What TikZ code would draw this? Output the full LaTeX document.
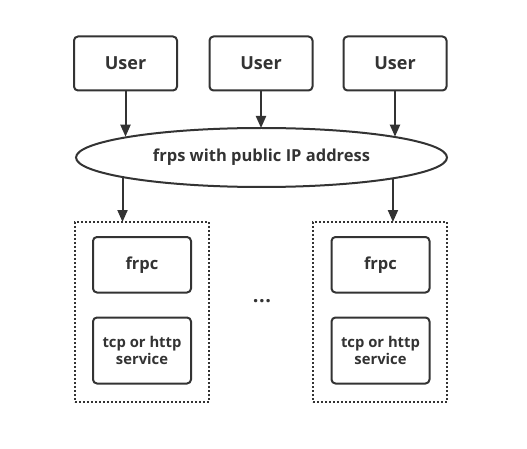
\documentclass[tikz,border=0pt]{standalone}
\usepackage{fontspec}
\setmainfont{Open Sans}
\usetikzlibrary{arrows.meta,shapes.geometric}
\definecolor{ink}{HTML}{333333}
\begin{document}
\begin{tikzpicture}[x=1pt,y=-1pt,
  box/.style={draw=ink, line width=2pt, rounded corners=4pt, inner sep=0pt, outer sep=0pt, text=ink, align=center},
  userbox/.style={box, minimum width=103pt, minimum height=54pt, font=\bfseries\fontsize{18}{20}\selectfont},
  innerbox/.style={box, minimum width=98pt, font=\bfseries\fontsize{16.5}{18}\selectfont},
  svcbox/.style={innerbox, minimum height=66pt, font=\bfseries\fontsize{14.8}{17}\selectfont},
  group/.style={draw=ink, line width=2pt, dash pattern=on 2pt off 2pt, minimum width=134pt, minimum height=180pt, inner sep=0pt, outer sep=0pt},
  arr/.style={draw=ink, line width=2pt, -{Triangle[length=12pt,width=10pt]}}]
\useasboundingbox (0,0) rectangle (527,449);
\node[userbox] (u1) at (125.5,63.5) {User};
\node[userbox] (u2) at (261,63.5) {User};
\node[userbox] (u3) at (395,63.5) {User};
\node[ellipse, draw=ink, line width=2pt, minimum width=371pt, minimum height=59pt, inner sep=0pt, outer sep=0pt, text=ink, font=\bfseries\fontsize{16.5}{18}\selectfont] (e) at (261.5,157.5) {frps with public IP address};
\node[group] (g1) at (142,312) {};
\node[group] (g2) at (380,312) {};
\node[innerbox, minimum height=55.5pt] (c1) at (142,264.75) {frpc};
\node[svcbox] (s1) at (142,350.5) {tcp or http\\service};
\node[innerbox, minimum height=55.5pt] (c2) at (380.5,264.75) {frpc};
\node[svcbox] (s2) at (380.5,350.5) {tcp or http\\service};
\node[text=ink, font=\bfseries\fontsize{20}{20}\selectfont] (dots) at (262,301) {.\kern0.5pt.\kern0.5pt.};
\draw[arr] (u1.south) -- (u1.south |- e.171.2);
\draw[arr] (u2.south) -- (u2.south |- e.north);
\draw[arr] (u3.south) -- (u3.south |- e.9.2);
\draw[arr] (e.188.8) -- (e.188.8 |- g1.north);
\draw[arr] (e.351.2) -- (e.351.2 |- g2.north);
\end{tikzpicture}
\end{document}
